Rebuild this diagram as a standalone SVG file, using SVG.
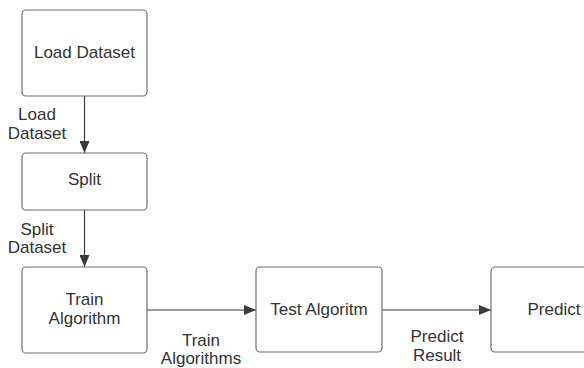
<svg xmlns="http://www.w3.org/2000/svg" width="584" height="368" viewBox="0 0 584 368">
<style>
.box{fill:#fff;stroke:#6e6e6e;stroke-width:1.2}
.t{font-family:"Liberation Sans",Arial,sans-serif;font-size:17px;fill:#333;text-anchor:middle}
.c{stroke:#3a3a3a;stroke-width:1.2;fill:none}
</style>
<defs>
<marker id="ah" markerWidth="12" markerHeight="10" refX="12" refY="5" orient="auto" markerUnits="userSpaceOnUse">
<path d="M0,0 L12,5 L0,10 Z" fill="#3a3a3a"/>
</marker>
</defs>
<rect width="584" height="368" fill="#fff"/>
<g id="connectors">
<path class="c" d="M84.5,96 V153" marker-end="url(#ah)"/>
<path class="c" d="M84.5,210 V267" marker-end="url(#ah)"/>
<path class="c" d="M147,310 H256" marker-end="url(#ah)"/>
<path class="c" d="M382,310 H491" marker-end="url(#ah)"/>
<text class="t" x="37" y="120">Load</text>
<text class="t" x="37" y="139">Dataset</text>
<text class="t" x="37" y="235">Split</text>
<text class="t" x="37" y="253">Dataset</text>
<text class="t" x="201" y="346">Train</text>
<text class="t" x="201" y="364">Algorithms</text>
<text class="t" x="437" y="342">Predict</text>
<text class="t" x="437" y="361">Result</text>
</g>
<g id="load">
<rect class="box" x="22" y="10" width="125" height="86" rx="4"/>
<text class="t" x="84.5" y="58">Load Dataset</text>
</g>
<g id="split">
<rect class="box" x="22" y="153" width="125" height="57" rx="4"/>
<text class="t" x="84.5" y="185">Split</text>
</g>
<g id="train">
<rect class="box" x="22" y="267" width="125" height="86" rx="4"/>
<text class="t" x="84.5" y="305">Train</text>
<text class="t" x="84.5" y="324">Algorithm</text>
</g>
<g id="test">
<rect class="box" x="256" y="267" width="126" height="85" rx="4"/>
<text class="t" x="319" y="315">Test Algoritm</text>
</g>
<g id="predict">
<rect class="box" x="491" y="267" width="126" height="85" rx="4"/>
<text class="t" x="554" y="315">Predict</text>
</g>
</svg>
